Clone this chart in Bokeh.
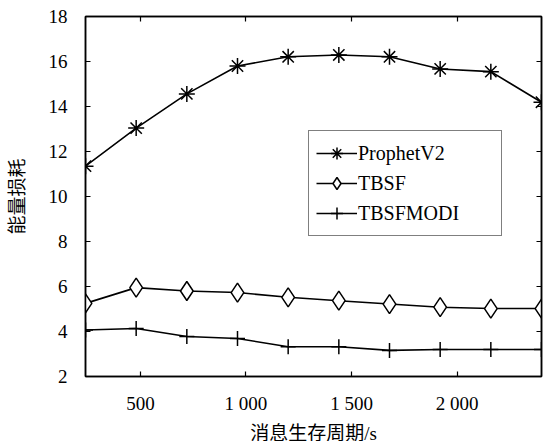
from bokeh.plotting import figure
from bokeh.models import Range1d, LinearAxis, FixedTicker, Label
from bokeh.embed import file_html
from bokeh.resources import INLINE

# Data
lifetime = [240, 480, 720, 960, 1200, 1440, 1680, 1920, 2160, 2400]
prophet_v2 = [11.35, 13.04, 14.56, 15.80, 16.21, 16.29, 16.21, 15.67, 15.55, 14.19]
tbsf = [5.25, 5.95, 5.80, 5.73, 5.52, 5.37, 5.22, 5.08, 5.02, 5.02]
tbsfmodi = [4.07, 4.13, 3.78, 3.69, 3.32, 3.32, 3.16, 3.20, 3.20, 3.20]

series_names = ["ProphetV2", "TBSF", "TBSFMODI"]
x_ticks = [500, 1000, 1500, 2000]
x_tick_labels = ["500", "1 000", "1 500", "2 000"]
y_ticks = [2, 4, 6, 8, 10, 12, 14, 16, 18]
x_title = "消息生存周期/s"
y_title = "能量损耗"

SERIF = "Liberation Serif, Noto Sans CJK SC"
FS = "19px"
X0, X1, Y0, Y1 = 240, 2400, 2, 18
FRAME_W = 456

p = figure(width=544, height=441, output_backend="svg", toolbar_location=None,
           x_range=Range1d(X0, X1), y_range=Range1d(Y0, Y1),
           min_border_left=85, min_border_right=3, min_border_top=16,
           min_border_bottom=65, x_axis_location=None, y_axis_location=None)
p.grid.visible = False
p.outline_line_color = "black"
p.outline_line_width = 1.5
p.background_fill_color = "white"
p.border_fill_color = "white"


def style_axis(ax, labels=True):
    ax.axis_line_color = "black"
    ax.axis_line_width = 1.5
    ax.major_tick_in = 5
    ax.major_tick_out = 0
    ax.minor_tick_line_color = None
    ax.major_tick_line_color = "black"
    ax.major_tick_line_width = 1.2
    if labels:
        ax.major_label_text_font = SERIF
        ax.major_label_text_font_size = FS
        ax.major_label_text_color = "black"
        ax.axis_label_text_font = SERIF
        ax.axis_label_text_font_size = FS
        ax.axis_label_text_font_style = "normal"
        ax.axis_label_text_color = "black"
    else:
        ax.major_label_text_color = None
        ax.major_label_text_font_size = "1px"
        ax.major_label_standoff = 0


xb = LinearAxis(ticker=FixedTicker(ticks=x_ticks))
xb.major_label_overrides = {t: l for t, l in zip(x_ticks, x_tick_labels)}
style_axis(xb)
xb.major_label_standoff = 16
p.add_layout(xb, "below")

# x-axis title as a label in its own panel below the axis
p.add_layout(Label(x=FRAME_W / 2, y=4, x_units="screen", y_units="screen",
                   text=x_title, text_align="center", text_baseline="middle",
                   text_font=SERIF, text_font_size=FS, text_color="black"),
             "below")

yl = LinearAxis(ticker=FixedTicker(ticks=y_ticks), axis_label=y_title)
style_axis(yl)
yl.major_label_standoff = 18
yl.axis_label_standoff = 18
p.add_layout(yl, "left")

xt = LinearAxis(ticker=FixedTicker(ticks=x_ticks))
style_axis(xt, labels=False)
p.add_layout(xt, "above")

yr = LinearAxis(ticker=FixedTicker(ticks=y_ticks))
style_axis(yr, labels=False)
p.add_layout(yr, "right")

lw = 1.6
p.line(lifetime, prophet_v2, color="black", line_width=lw, legend_label=series_names[0])
p.scatter(lifetime, prophet_v2, marker="asterisk", size=16, line_color="black",
          line_width=1.5, legend_label=series_names[0])
p.line(lifetime, tbsf, color="black", line_width=lw, legend_label=series_names[1])
p.scatter(lifetime, tbsf, marker="diamond", size=19, line_color="black",
          fill_color="white", line_width=1.5, legend_label=series_names[1])
p.line(lifetime, tbsfmodi, color="black", line_width=lw, legend_label=series_names[2])
p.scatter(lifetime, tbsfmodi, marker="cross", size=15, line_color="black",
          line_width=1.5, legend_label=series_names[2])

lg = p.legend[0]
lg.location = (223, 140)
lg.border_line_color = "black"
lg.border_line_width = 1.5
lg.background_fill_alpha = 1
lg.label_text_font = SERIF
lg.label_text_font_size = "20px"
lg.label_text_color = "black"
lg.glyph_width = 41
lg.glyph_height = 30
lg.label_height = 20
lg.label_width = 136
lg.label_standoff = 1
lg.spacing = 0
lg.padding = 7
lg.margin = 0

open("out.html", "w").write(file_html(p, INLINE))
